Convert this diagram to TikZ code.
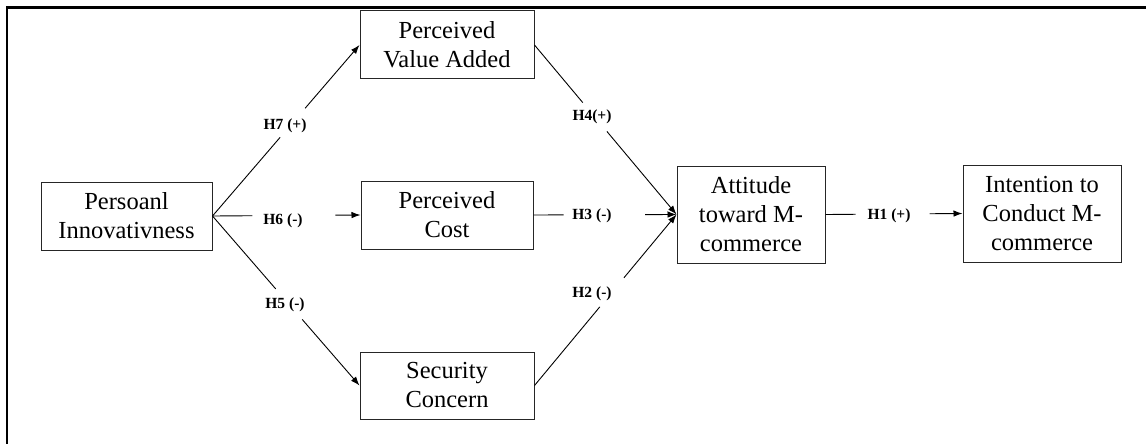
\documentclass[tikz,border=0pt]{standalone}
\usepackage{fontspec}
\setmainfont{Liberation Serif}
\usetikzlibrary{calc,arrows.meta}
\begin{document}
\begin{tikzpicture}[x=1pt,y=-1pt,
  box/.style={draw=black!85,line width=1pt,align=center,inner sep=0pt,
    font=\fontsize{24.5}{29}\selectfont},
  hlab/.style={font=\fontsize{15.5}{18}\selectfont\bfseries,inner sep=0pt},
  conn/.style={line width=0.9pt},
  arr/.style={line width=0.9pt,-{Latex[length=9pt,width=6.5pt]}}]
\useasboundingbox (0,0) rectangle (1146,444);
\draw[line width=2.2pt] (7,445) -- (7,7.5) -- (1147,7.5);
% boxes
\node[box,minimum width=171pt,minimum height=68pt] (P) at (126.5,216) {Persoanl\\Innovativness};
\node[box,minimum width=174pt,minimum height=68pt] (V) at (447,45) {Perceived\\Value Added};
\node[box,minimum width=172pt,minimum height=68pt] (C) at (447,215) {Perceived\\Cost};
\node[box,minimum width=174pt,minimum height=67pt] (S) at (447,385.5) {Security\\Concern};
\node[box,minimum width=148pt,minimum height=97pt] (A) at (751,214.5) {Attitude\\toward M-\\commerce};
\node[box,minimum width=158pt,minimum height=97pt] (I) at (1042,213.5) {Intention to\\Conduct M-\\commerce};
% labels
\node[hlab] (h7) at (285,126) {H7 (+)};
\node[hlab] (h6) at (283,221) {H6 (-)};
\node[hlab] (h5) at (285,305) {H5 (-)};
\node[hlab] (h4) at (592,117) {H4(+)};
\node[hlab] (h3) at (592,216) {H3 (-)};
\node[hlab] (h2) at (592,294) {H2 (-)};
\node[hlab] (h1) at (889,216) {H1 (+)};
% connectors (split around labels)
\draw[conn] (P.east) -- ($(P.east)!0.46!(V.west)$);
\draw[arr] ($(P.east)!0.63!(V.west)$) -- (V.west);
\draw[conn] (P.east) -- ($(P.east)!0.27!(C.west)$);
\draw[arr] ($(P.east)!0.83!(C.west)$) -- (C.west);
\draw[conn] (P.east) -- ($(P.east)!0.43!(S.west)$);
\draw[arr] ($(P.east)!0.61!(S.west)$) -- (S.west);
\draw[conn] (V.east) -- ($(V.east)!0.34!(A.west)$);
\draw[arr] ($(V.east)!0.51!(A.west)$) -- (A.west);
\draw[conn] (C.east) -- ($(C.east)!0.21!(A.west)$);
\draw[arr] ($(C.east)!0.78!(A.west)$) -- (A.west);
\draw[conn] (S.east) -- ($(S.east)!0.46!(A.west)$);
\draw[arr] ($(S.east)!0.63!(A.west)$) -- (A.west);
\draw[conn] (A.east) -- ($(A.east)!0.22!(I.west)$);
\draw[arr] ($(A.east)!0.76!(I.west)$) -- (I.west);
\end{tikzpicture}
\end{document}
